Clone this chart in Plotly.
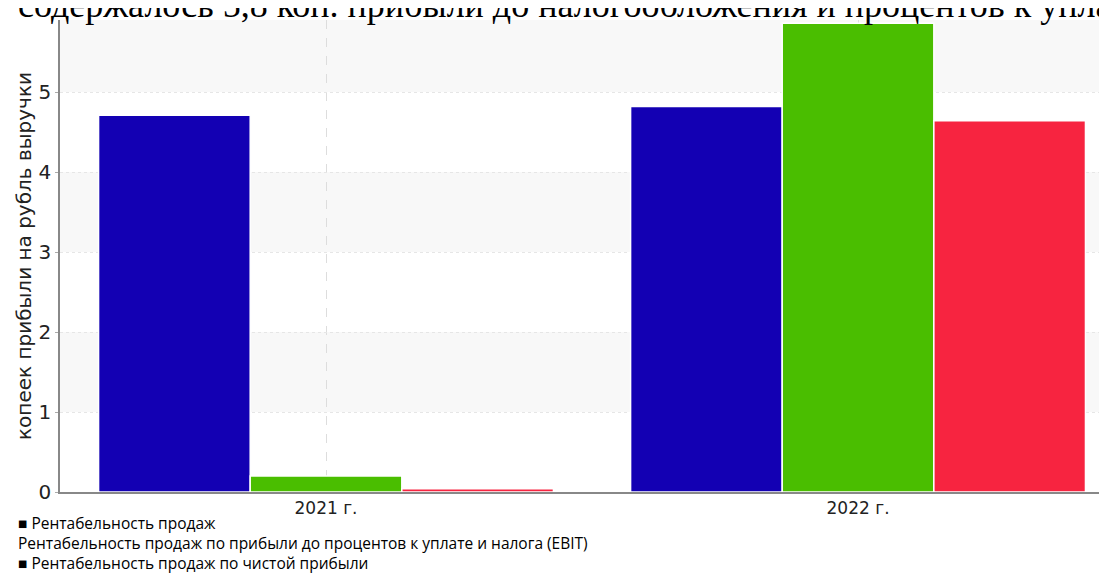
import plotly.graph_objects as go

categories = ["2021 г.", "2022 г."]
series_names = [
    "Рентабельность продаж",
    "Рентабельность продаж по прибыли до процентов к уплате и налога (EBIT)",
    "Рентабельность продаж по чистой прибыли",
]
sales_margin = [4.71, 4.82]
ebit_margin = [0.20, 5.86]
net_margin = [0.04, 4.64]
colors = ["#1300b3", "#4abe00", "#f72440"]
y_ticks = [0, 1, 2, 3, 4, 5]
y_title = "копеек прибыли на рубль выручки"
top_text = "содержалось 5,8 коп. прибыли до налогообложения и процентов к уплате"
legend_marks = ["■ ", "", "■ "]

fig = go.Figure()
for name, vals, col in zip(series_names, [sales_margin, ebit_margin, net_margin], colors):
    fig.add_trace(go.Bar(
        x=categories, y=vals, name=name,
        marker=dict(color=col, line=dict(color="white", width=1.5)),
        showlegend=False,
    ))

# alternating horizontal bands
shapes = []
for lo in [1, 3, 5]:
    shapes.append(dict(type="rect", xref="paper", yref="y", x0=0, x1=1, y0=lo, y1=lo + 1,
                       fillcolor="#f8f8f8", line=dict(width=0), layer="below"))

annotations = []
# cut-off document text above the chart (as in the source screenshot)
annotations.append(dict(
    text=top_text, xref="paper", yref="paper", x=0, y=1, xanchor="left", yanchor="bottom",
    xshift=-44, yshift=-7, showarrow=False,
    font=dict(family="Liberation Serif", size=36, color="#000000"),
))
# legend block (three lines)
legend_text = "<br>".join(mark + name for mark, name in zip(legend_marks, series_names))
annotations.append(dict(
    text=legend_text, xref="paper", yref="paper", x=0, y=0, xanchor="left", yanchor="middle",
    align="left", xshift=-44, yshift=-51, showarrow=False,
    font=dict(family="Open Sans", size=15.5, color="#000000"),
))

fig.update_layout(
    width=1107, height=575,
    margin=dict(l=52, r=0, t=12, b=91),
    paper_bgcolor="white", plot_bgcolor="white",
    barmode="group", bargap=0.145, bargroupgap=0,
    shapes=shapes, annotations=annotations,
    font=dict(family="DejaVu Sans", color="#222222"),
)
fig.update_xaxes(
    range=[-0.5, 1.483], showline=True, linecolor="#888888", linewidth=1.5,
    showgrid=True, gridcolor="#dddddd", griddash="dash", gridwidth=1,
    tickfont=dict(size=17, family="DejaVu Sans", color="#222222"), ticks="",
    zeroline=False,
)
fig.update_yaxes(
    range=[0, 5.9], tickvals=y_ticks, showline=True, linecolor="#888888", linewidth=1.5,
    showgrid=True, gridcolor="#e6e6e6", griddash="dot", gridwidth=1,
    ticks="outside", ticklen=3, tickcolor="#aaaaaa",
    tickfont=dict(size=20, family="DejaVu Sans", color="#222222"),
    title=dict(text=y_title, font=dict(size=20, family="DejaVu Sans", color="#222222"), standoff=2),
    zeroline=False,
)

fig.write_html("out.html")
